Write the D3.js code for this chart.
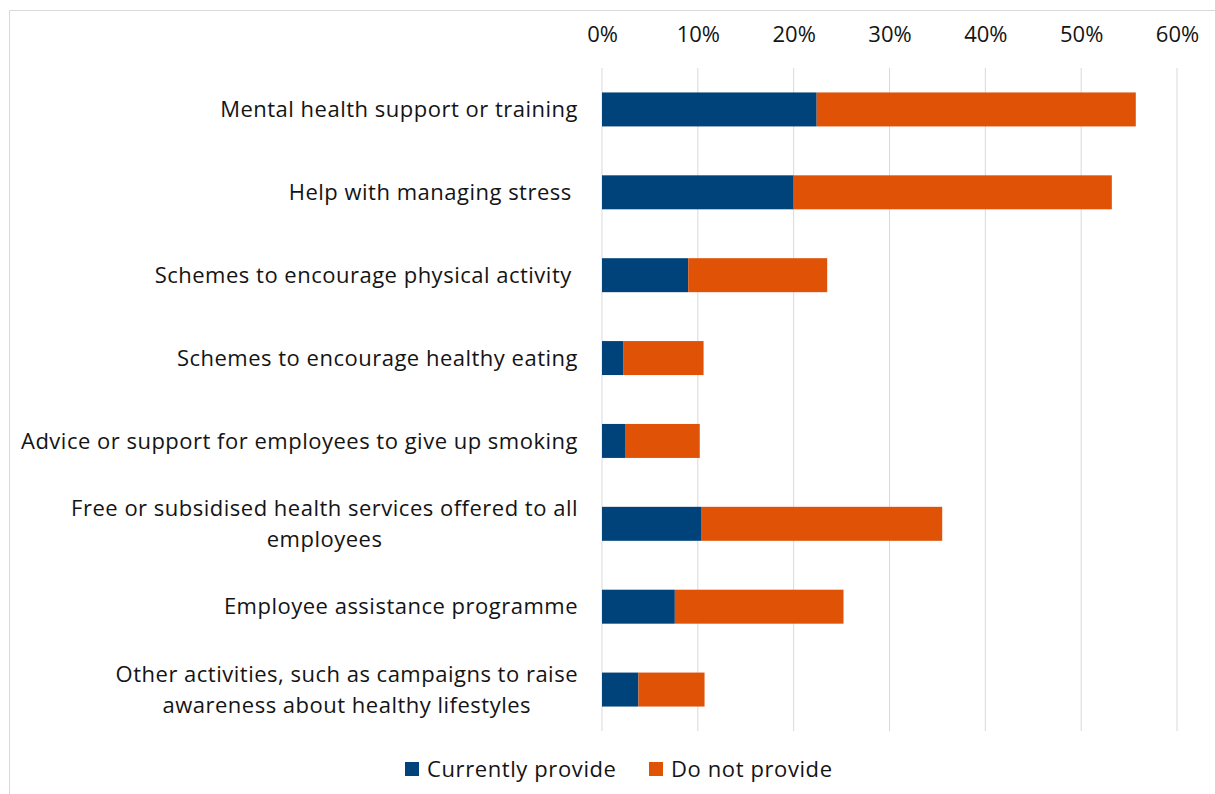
<!DOCTYPE html>
<html>
<head>
<meta charset="utf-8">
<script src="https://cdn.jsdelivr.net/npm/d3@7"></script>
<style>
  html, body { margin: 0; padding: 0; background: #fff; }
  svg { display: block; font-family: "Open Sans", sans-serif; }
  svg text { white-space: pre; }
</style>
</head>
<body>
<svg id="chart" width="1215" height="794"></svg>
<script>
// Workplace health activities: share of organisations
const categories = [
  ["Mental health support or training"],
  ["Help with managing stress "],
  ["Schemes to encourage physical activity "],
  ["Schemes to encourage healthy eating"],
  ["Advice or support for employees to give up smoking"],
  ["Free or subsidised health services offered to all", "employees"],
  ["Employee assistance programme"],
  ["Other activities, such as campaigns to raise", "awareness about healthy lifestyles"]
];
const currentlyProvide = [0.224, 0.200, 0.090, 0.022, 0.024, 0.104, 0.076, 0.038];
const doNotProvide     = [0.333, 0.332, 0.145, 0.084, 0.078, 0.251, 0.176, 0.069];
const seriesNames = ["Currently provide", "Do not provide"];
const tickValues = [0, 0.1, 0.2, 0.3, 0.4, 0.5, 0.6];

const colors = ["#00427a", "#e05206"];
const svg = d3.select("#chart");
const W = 1215, H = 794;
const textColor = "#141414";

// chart frame (left and top edges)
svg.append("path")
  .attr("d", `M9.5,${H} V10.5 H${W}`)
  .attr("fill", "none")
  .attr("stroke", "#d9d9d9");

const plot = { left: 602, right: 1177, top: 68, bottom: 731 };

const keys = categories.map((c, i) => i);
const x = d3.scaleLinear().domain([0, 0.6]).range([plot.left, plot.right]);
const y = d3.scaleBand().domain(keys).range([plot.top, plot.bottom])
  .paddingInner(0.59).paddingOuter(0.295);

// vertical gridlines
svg.append("g").selectAll("line").data(tickValues).join("line")
  .attr("x1", d => x(d)).attr("x2", d => x(d))
  .attr("y1", plot.top).attr("y2", plot.bottom)
  .attr("stroke", "#d9d9d9").attr("stroke-width", 1);

// top axis labels
const axis = d3.axisTop(x).tickValues(tickValues).tickFormat(d3.format(".0%")).tickSize(0).tickPadding(0);
const axG = svg.append("g").attr("transform", `translate(0,${42})`).call(axis);
axG.select(".domain").remove();
axG.selectAll("text")
  .attr("font-family", "'Open Sans', sans-serif")
  .attr("font-size", 22)
  .attr("fill", textColor);

// stacked bars
const rows = keys.map(i => ({ i, a: currentlyProvide[i], b: doNotProvide[i] }));
const stack = d3.stack().keys(["a", "b"])(rows);
svg.append("g").selectAll("g").data(stack).join("g")
  .attr("fill", (d, k) => colors[k])
  .selectAll("rect").data(d => d).join("rect")
  .attr("x", d => x(d[0]))
  .attr("width", d => x(d[1]) - x(d[0]))
  .attr("y", d => y(d.data.i))
  .attr("height", y.bandwidth());

// category labels, right-aligned block, wrapped lines centred within it
const labelRight = 578, lineH = 31, labelSize = 22;
const lg = svg.append("g")
  .attr("font-size", labelSize)
  .attr("letter-spacing", 0.5)
  .attr("fill", textColor);
categories.forEach((lines, i) => {
  const cy = y(i) + y.bandwidth() / 2;
  const g = lg.append("g");
  const texts = lines.map((t, j) => g.append("text")
    .attr("y", cy + (j - (lines.length - 1) / 2) * lineH)
    .attr("dy", "0.35em")
    .text(t));
  const widths = texts.map(t => t.node().getComputedTextLength());
  const maxW = d3.max(widths);
  texts.forEach(t => t.attr("text-anchor", "middle").attr("x", labelRight - maxW / 2));
});

// legend
const legend = svg.append("g")
  .attr("font-size", 22)
  .attr("letter-spacing", 0.6)
  .attr("fill", textColor);
const legendX = [405, 649];
seriesNames.forEach((name, k) => {
  legend.append("rect").attr("x", legendX[k]).attr("y", 762).attr("width", 14).attr("height", 14).attr("fill", colors[k]);
  legend.append("text").attr("x", legendX[k] + 22).attr("y", 769).attr("dy", "0.35em").text(name);
});
</script>
</body>
</html>
